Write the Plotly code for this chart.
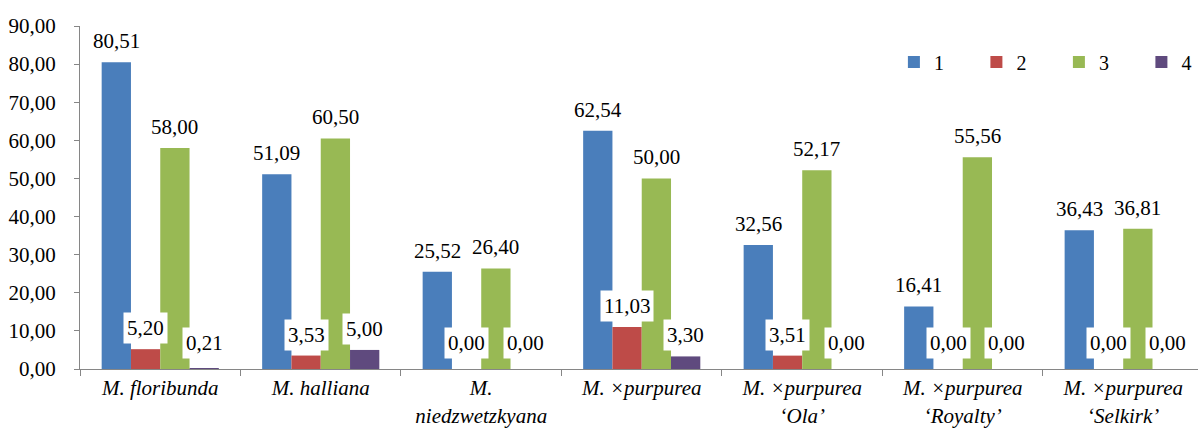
import plotly.graph_objects as go

categories = [
    "M. floribunda",
    "M. halliana",
    "M.<br>niedzwetzkyana",
    "M. ×purpurea",
    "M. ×purpurea<br>‘Ola’",
    "M. ×purpurea<br>‘Royalty’",
    "M. ×purpurea<br>‘Selkirk’",
]
series_names = ["1", "2", "3", "4"]
series1 = [80.51, 51.09, 25.52, 62.54, 32.56, 16.41, 36.43]
series2 = [5.20, 3.53, 0.00, 11.03, 3.51, 0.00, 0.00]
series3 = [58.00, 60.50, 26.40, 50.00, 52.17, 55.56, 36.81]
series4 = [0.21, 5.00, 0.00, 3.30, 0.00, 0.00, 0.00]
y_ticks = [0, 10, 20, 30, 40, 50, 60, 70, 80, 90]

colors = ["#4A7EBB", "#BE4B48", "#98B954", "#5F4A7E"]
all_series = [series1, series2, series3, series4]

FONT = "Liberation Serif"
BARGAP = 0.27
W, H = 1198, 428
LEFT, TOP, BOTTOM = 80, 26, 59

fig = go.Figure()
for name, vals, col in zip(series_names, all_series, colors):
    fig.add_trace(go.Bar(
        x=categories, y=vals, name=name,
        marker=dict(color=col, line=dict(width=0)),
    ))

# value labels on white boxes above each bar
n = len(all_series)
bar_w = (1 - BARGAP) / n
px_per_unit = (H - TOP - BOTTOM) / 90
for j, vals in enumerate(all_series):
    off = (j - (n - 1) / 2) * bar_w
    for i, v in enumerate(vals):
        shift = max(5, 10 - v * px_per_unit)
        fig.add_annotation(
            x=i + off, y=v, xref="x", yref="y",
            text=f"{v:.2f}".replace(".", ","),
            showarrow=False, yanchor="bottom", xanchor="center",
            yshift=shift,
            bgcolor="white", borderpad=3,
            font=dict(family=FONT, size=21, color="#000000"),
        )

fig.update_layout(
    width=W, height=H,
    margin=dict(l=LEFT, r=0, t=TOP, b=BOTTOM, pad=0, autoexpand=False),
    paper_bgcolor="white", plot_bgcolor="white",
    barmode="group", bargap=BARGAP, bargroupgap=0,
    separators=", ",
    showlegend=True,
    legend=dict(
        orientation="h", x=0.728, y=0.895, xanchor="left", yanchor="middle",
        font=dict(family=FONT, size=20, color="#000000"),
        entrywidth=37.5, entrywidthmode="pixels",
        itemwidth=30, bgcolor="rgba(0,0,0,0)", traceorder="normal",
    ),
    font=dict(family=FONT, color="#000000"),
)
fig.update_xaxes(
    type="category", range=[-0.5, 6.466], automargin=False, tickangle=0,
    showline=True, linecolor="#868686", linewidth=1,
    ticks="outside", tickson="boundaries", ticklen=6, tickcolor="#868686",
    tickfont=dict(family=FONT, size=21, style="italic", color="#000000"),
    showgrid=False, zeroline=False,
)
fig.update_yaxes(
    range=[0, 90], tickvals=y_ticks, tickformat=".2f", automargin=False,
    showline=True, linecolor="#868686", linewidth=1,
    ticks="outside", ticklen=5, tickcolor="#868686",
    tickfont=dict(family=FONT, size=21, color="#000000"),
    ticklabelstandoff=14,
    showgrid=False, zeroline=False,
)

fig.write_html("out.html")
